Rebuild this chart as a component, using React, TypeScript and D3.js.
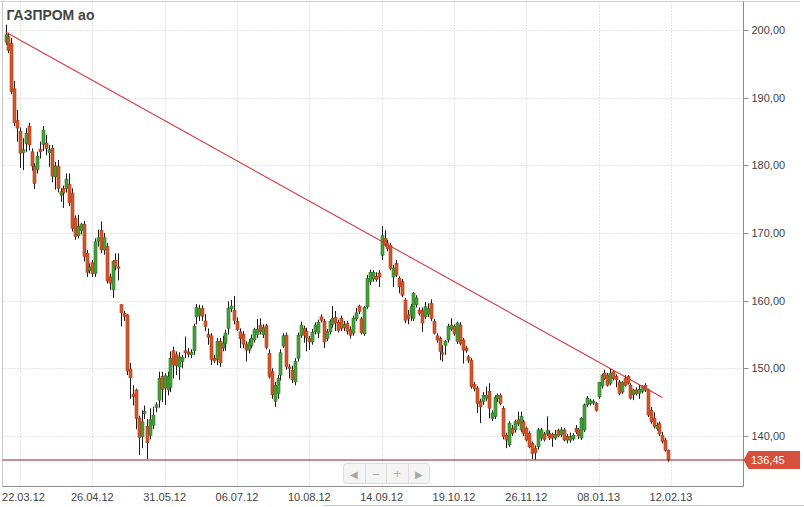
import React from "react";
import * as d3 from "d3";

const title = "ГАЗПРОМ ао";
const xTickIndex = [5, 30, 55, 80, 105, 130, 155, 180, 205, 230];
const xTickLabels = ["22.03.12", "26.04.12", "31.05.12", "06.07.12", "10.08.12", "14.09.12", "19.10.12", "26.11.12", "08.01.13", "12.02.13"];
const yTicks = [140, 150, 160, 170, 180, 190, 200];
const lastPrice = 136.45;
const trendStart = [0, 199.7];
const trendEnd = [227, 145.7];
const navButtons = ["◀", "–", "+", "▶"];

// [open, high, low, close]
const ohlc: [number, number, number, number][] = [
  [198.2, 200.8, 197.8, 199.3], [199.0, 199.6, 196.6, 197.0], [198.0, 198.8, 190.5, 190.9], [191.3, 192.5, 185.8, 186.3],
  [186.6, 188.2, 183.5, 185.5], [185.0, 185.6, 179.6, 181.8], [181.9, 184.0, 179.3, 182.3], [183.2, 185.5, 182.0, 184.7],
  [185.8, 186.3, 182.2, 183.0], [182.0, 182.5, 179.2, 179.9], [179.8, 180.3, 176.5, 177.3], [179.4, 182.0, 178.8, 181.3],
  [182.4, 183.5, 181.0, 182.0], [183.1, 185.8, 182.1, 185.2], [183.3, 184.5, 181.5, 182.5], [181.9, 183.0, 179.8, 182.3],
  [182.5, 183.0, 177.5, 178.4], [178.3, 180.5, 176.4, 179.9], [179.8, 180.8, 176.0, 176.6], [175.6, 176.6, 174.6, 176.1],
  [176.6, 177.0, 173.7, 175.9], [176.6, 178.8, 176.0, 177.9], [177.2, 178.8, 174.0, 174.5], [175.9, 176.6, 170.2, 170.7],
  [172.2, 172.6, 169.0, 169.5], [169.6, 172.7, 169.2, 171.0], [170.4, 171.5, 169.8, 171.3], [171.3, 171.8, 165.8, 166.5],
  [167.0, 167.5, 163.5, 164.2], [164.5, 165.5, 164.0, 165.0], [165.6, 166.0, 163.5, 164.0], [164.0, 169.2, 163.5, 168.7],
  [168.8, 170.5, 168.0, 169.3], [170.4, 171.7, 167.0, 167.5], [167.5, 170.0, 166.8, 169.3], [168.0, 168.5, 162.5, 162.9],
  [163.5, 164.0, 161.6, 162.6], [161.6, 166.0, 160.4, 165.8], [166.0, 167.0, 164.5, 165.1], [165.0, 167.0, 163.0, 164.8],
  [159.4, 159.5, 156.2, 158.2], [158.1, 158.5, 157.0, 157.7], [157.9, 158.0, 149.0, 149.6], [149.9, 150.8, 145.5, 148.6],
  [146.2, 147.5, 144.5, 145.8], [146.8, 147.0, 141.0, 142.6], [142.6, 143.0, 137.2, 139.8],
  [139.9, 143.8, 138.2, 142.1], [143.3, 144.5, 142.5, 143.6], [141.4, 142.5, 136.6, 139.0], [140.1, 144.1, 139.5, 142.4],
  [141.6, 144.3, 141.0, 143.1], [144.2, 145.0, 143.5, 144.6], [145.3, 149.5, 144.2, 148.5], [148.8, 149.5, 145.0, 146.9],
  [147.1, 149.3, 144.6, 148.9], [146.8, 149.5, 146.0, 148.8], [147.2, 152.5, 146.5, 151.5], [152.6, 153.2, 148.5, 150.5],
  [152.0, 152.5, 149.0, 150.4], [150.2, 152.4, 148.3, 151.7], [151.0, 152.0, 150.0, 151.6], [152.6, 154.7, 151.5, 152.3],
  [152.4, 153.0, 151.6, 152.1], [152.0, 152.8, 151.5, 152.4], [152.6, 156.6, 152.0, 156.2], [157.6, 159.5, 156.5, 159.0],
  [157.8, 159.4, 157.0, 158.8], [158.9, 159.3, 157.0, 157.7], [157.0, 158.0, 155.5, 156.2], [155.0, 155.9, 153.5, 154.6],
  [154.8, 155.2, 150.5, 151.3], [151.5, 152.0, 150.8, 151.1], [151.3, 154.5, 150.5, 154.0], [154.0, 154.5, 150.2, 150.8],
  [153.0, 154.8, 152.5, 153.7], [153.7, 155.7, 152.6, 155.2], [155.9, 159.9, 155.0, 158.9], [158.8, 160.1, 158.3, 159.2],
  [158.6, 160.7, 156.5, 157.1], [156.9, 157.5, 155.5, 155.7], [155.4, 155.9, 153.0, 154.4], [155.0, 155.5, 153.0, 153.6],
  [153.5, 154.0, 151.0, 152.7], [152.7, 154.3, 152.2, 153.8], [153.4, 155.0, 153.0, 154.4], [154.2, 156.0, 153.8, 155.7],
  [155.0, 157.3, 154.5, 155.8], [156.4, 157.4, 155.0, 155.4], [155.0, 156.5, 154.5, 156.0], [156.3, 156.6, 152.8, 153.1],
  [152.2, 152.8, 148.5, 148.8], [149.5, 150.0, 145.5, 146.1], [145.1, 148.0, 144.3, 147.5], [146.3, 149.0, 145.5, 148.5],
  [149.0, 152.8, 148.2, 152.3], [153.3, 155.2, 153.0, 154.8], [154.9, 155.3, 149.8, 150.3], [150.2, 150.6, 148.5, 150.0],
  [149.7, 150.4, 147.8, 148.3], [148.0, 151.5, 147.5, 151.0], [151.5, 155.3, 151.0, 154.9], [154.9, 156.9, 154.5, 156.4],
  [155.9, 156.3, 153.8, 154.9], [155.5, 156.0, 152.5, 154.5], [154.4, 154.8, 152.7, 153.9], [153.9, 155.8, 153.5, 155.3],
  [155.4, 156.8, 155.0, 156.4], [155.2, 157.2, 154.5, 156.8], [157.6, 158.0, 156.8, 157.1], [156.9, 157.3, 153.0, 153.9],
  [154.4, 155.8, 154.0, 155.4], [155.4, 157.2, 155.0, 156.9], [156.5, 159.2, 156.0, 157.4], [157.5, 158.5, 155.5, 156.7],
  [156.8, 157.2, 155.3, 155.6], [157.4, 157.8, 155.5, 155.9], [156.0, 157.0, 155.5, 156.5], [156.6, 157.0, 155.0, 155.5],
  [155.7, 156.2, 154.4, 154.9], [155.2, 157.8, 154.8, 157.4], [157.3, 158.9, 157.0, 158.2], [159.2, 159.4, 158.0, 158.4],
  [157.3, 157.6, 155.0, 155.3], [155.1, 159.2, 154.8, 159.0], [159.1, 163.8, 158.8, 163.3], [162.8, 164.6, 162.3, 164.2],
  [163.2, 164.5, 162.8, 164.2], [163.6, 164.2, 162.8, 163.1], [164.1, 164.5, 162.0, 163.5], [166.7, 171.0, 166.0, 169.6],
  [169.2, 170.4, 168.0, 168.2], [168.5, 169.0, 167.3, 167.7], [168.2, 168.5, 164.5, 164.8], [163.5, 165.3, 162.0, 164.8],
  [165.5, 166.0, 163.5, 163.8], [163.3, 163.6, 161.1, 162.1],
  [162.8, 163.2, 160.5, 160.8], [160.1, 160.4, 156.7, 157.1], [157.9, 158.6, 156.5, 157.4], [157.9, 159.5, 157.0, 159.1],
  [157.4, 161.3, 157.0, 161.1], [159.4, 160.8, 159.0, 160.4], [158.6, 159.0, 157.8, 158.1], [158.6, 159.0, 155.4, 156.7],
  [157.6, 159.8, 157.3, 159.1], [158.0, 159.6, 157.6, 158.8], [159.6, 160.2, 157.0, 157.4], [156.9, 157.3, 155.0, 155.2],
  [154.8, 155.2, 153.8, 154.2], [154.4, 154.7, 151.2, 152.5], [152.3, 153.4, 151.0, 152.1], [153.4, 154.2, 152.0, 154.0],
  [154.2, 156.6, 153.8, 156.2], [155.8, 157.4, 155.5, 156.4], [156.2, 156.5, 154.8, 155.1], [154.0, 156.9, 153.6, 156.7],
  [156.4, 156.8, 153.4, 153.7], [154.2, 154.5, 150.7, 152.7], [153.0, 153.3, 152.3, 152.6], [151.7, 152.0, 150.8, 151.2],
  [151.2, 151.5, 147.0, 147.3], [147.6, 148.0, 146.6, 147.0], [147.0, 147.4, 143.4, 144.8], [145.1, 145.5, 141.9, 144.3],
  [145.1, 146.5, 144.6, 146.0], [145.6, 147.3, 145.2, 146.0], [146.6, 147.8, 142.6, 144.1], [142.6, 143.8, 142.2, 143.4],
  [142.9, 146.0, 142.5, 145.7], [145.5, 146.3, 145.0, 146.0], [146.0, 146.3, 144.5, 144.8], [144.1, 144.4, 139.5, 139.9],
  [140.1, 140.5, 138.2, 139.4], [138.7, 142.2, 138.4, 141.9], [141.1, 141.6, 140.0, 140.4], [140.9, 142.4, 140.5, 142.1],
  [142.4, 143.6, 141.5, 141.8], [140.9, 143.6, 140.6, 142.9], [142.1, 142.4, 140.0, 140.4], [141.1, 141.4, 139.2, 139.4],
  [140.4, 140.7, 138.2, 138.4], [138.9, 139.2, 136.6, 137.4],
  [138.2, 138.6, 136.5, 137.5], [138.4, 141.2, 138.0, 140.9], [139.7, 141.2, 139.3, 140.9], [140.3, 140.6, 139.2, 139.5],
  [140.3, 142.9, 140.0, 140.8], [140.4, 140.8, 139.4, 139.7], [140.2, 140.5, 138.4, 139.7], [139.7, 140.9, 139.4, 140.2],
  [140.8, 141.1, 139.8, 140.0], [140.2, 141.3, 139.8, 140.9], [140.9, 141.2, 139.2, 139.4], [139.9, 140.3, 138.9, 139.4],
  [139.4, 140.5, 139.0, 139.9], [139.6, 140.4, 139.3, 140.1], [141.1, 141.6, 140.3, 140.6], [140.9, 141.2, 139.6, 140.0],
  [139.7, 142.8, 139.4, 142.6], [140.9, 144.8, 140.6, 144.6], [144.6, 145.9, 144.3, 145.6], [144.8, 145.5, 144.5, 145.2],
  [144.9, 145.4, 144.6, 145.1], [144.8, 145.0, 143.6, 143.8], [145.8, 148.0, 145.5, 147.9], [147.4, 149.2, 147.0, 149.0],
  [149.3, 149.8, 148.3, 148.5], [149.0, 149.3, 147.3, 147.5], [147.8, 149.9, 147.5, 149.3], [149.5, 149.7, 148.2, 148.5],
  [148.8, 149.1, 147.2, 148.3], [148.0, 148.3, 146.0, 146.3], [146.5, 148.1, 146.2, 147.9], [148.5, 149.0, 147.3, 147.5],
  [148.8, 149.0, 147.6, 147.8], [147.5, 147.8, 145.4, 145.6], [146.1, 147.0, 145.3, 146.8], [146.8, 147.2, 146.0, 146.3],
  [146.3, 147.5, 145.5, 146.9], [146.6, 147.5, 146.3, 147.3], [147.5, 147.8, 146.5, 146.8], [146.8, 147.0, 142.8, 143.1],
  [143.8, 144.3, 141.8, 142.1], [142.6, 143.5, 141.1, 141.4], [141.1, 142.0, 140.8, 141.6], [141.8, 142.1, 140.0, 140.3],
  [140.1, 140.6, 138.9, 139.2], [139.4, 139.7, 137.7, 137.9], [137.9, 138.0, 136.2, 136.45],
];

const FONT = "'Liberation Sans', Arial, sans-serif";

export default function App() {
  const W = 804, H = 507;
  const left = 2.5, right = 743.5, top = 1.5, bottom = 486.5;
  const x = d3.scaleLinear().domain([5, 230]).range([20, 671]);
  const y = d3.scaleLinear().domain([140, 200]).range([436, 30]);
  const fmt = (v: number) => d3.format(".2f")(v).replace(".", ",");
  const yLast = y(lastPrice);

  const navLeft = 343, navTop = 463, navW = 86, navH = 20;
  const segW = navW / navButtons.length;

  return (
    <svg width={W} height={H} style={{ position: "absolute", left: 0, top: 0, background: "#fff" }} fontFamily={FONT}>
      <rect x={0} y={0} width={W} height={H} fill="#fff" />
      {/* outer frame */}
      <line x1={0} x2={800} y1={top} y2={top} stroke="#d0d0d0" />
      <line x1={323} x2={W} y1={505.5} y2={505.5} stroke="#c8c8c8" />
      {/* grid */}
      {yTicks.map((t) => (
        <line key={"gy" + t} x1={left} x2={right} y1={Math.round(y(t)) + 0.5} y2={Math.round(y(t)) + 0.5}
          stroke="#c8c8c8" strokeDasharray="1,2" />
      ))}
      {xTickIndex.map((t) => (
        <line key={"gx" + t} x1={Math.round(x(t)) + 0.5} x2={Math.round(x(t)) + 0.5} y1={top} y2={bottom}
          stroke="#c8c8c8" strokeDasharray="1,2" />
      ))}
      {/* plot borders */}
      <line x1={left} x2={left} y1={top} y2={bottom} stroke="#c8c8c8" />
      <line x1={left} x2={right} y1={bottom} y2={bottom} stroke="#8c8c8c" />
      <line x1={right} x2={right} y1={top} y2={bottom} stroke="#8c8c8c" />

      {/* candles */}
      {ohlc.map(([o, h, l, c], i) => {
        const cx = Math.round(x(i)) + 0.5;
        const up = c >= o;
        const yT = y(Math.max(o, c));
        const yB = y(Math.min(o, c));
        const bh = Math.max(1, yB - yT);
        return (
          <g key={i}>
            <line x1={cx} x2={cx} y1={y(h)} y2={y(l)} stroke="#1a1a1a" strokeWidth={1} />
            <rect x={cx - 1.5} y={yT} width={3} height={bh}
              fill={up ? "#45a23a" : "#d4562b"} stroke={up ? "#2f6f25" : "#a93c16"} strokeWidth={0.6} />
          </g>
        );
      })}

      {/* trend line */}
      <line x1={x(trendStart[0])} y1={y(trendStart[1])} x2={x(trendEnd[0])} y2={y(trendEnd[1])}
        stroke="#d8383f" strokeWidth={1.1} />
      {/* support line */}
      <line x1={left} x2={right} y1={yLast} y2={yLast} stroke="#9e1a1a" strokeWidth={1.2} />

      {/* title */}
      <text x={6.5} y={20} fontSize={14} fontWeight="bold" fill="#444">{title}</text>

      {/* y axis */}
      {yTicks.map((t) => (
        <g key={"yt" + t}>
          <line x1={right} x2={right + 5} y1={Math.round(y(t)) + 0.5} y2={Math.round(y(t)) + 0.5} stroke="#8c8c8c" />
          <text x={751.5} y={y(t) + 4} fontSize={11} fill="#444">{fmt(t)}</text>
        </g>
      ))}

      {/* x axis labels */}
      {xTickIndex.map((t, k) => {
        const px = x(t);
        const cx = Math.max(px, 23.5);
        return (
          <text key={"xt" + t} x={cx} y={500.5} fontSize={11} fill="#444" textAnchor="middle">{xTickLabels[k]}</text>
        );
      })}

      {/* last price label */}
      <path d={`M${right},${yLast} L${right + 5},${yLast - 9} L800,${yLast - 9} L800,${yLast + 9} L${right + 5},${yLast + 9} Z`}
        fill="#d6503c" />
      <text x={751} y={yLast + 4} fontSize={11} fill="#fff">{fmt(lastPrice)}</text>

      {/* navigator buttons */}
      <rect x={navLeft + 0.5} y={navTop + 0.5} width={navW} height={navH} rx={3} fill="#f4f4f4" stroke="#dcdcdc" />
      {navButtons.map((b, k) => (
        <g key={"nb" + k}>
          {k > 0 && (
            <line x1={Math.round(navLeft + segW * k) + 0.5} x2={Math.round(navLeft + segW * k) + 0.5}
              y1={navTop + 1} y2={navTop + navH} stroke="#dcdcdc" />
          )}
          <text x={navLeft + segW * k + segW / 2 + 0.5} y={navTop + 14.5} fontSize={k === 0 || k === 3 ? 10 : 12}
            fill="#a8a8a8" textAnchor="middle">{b}</text>
        </g>
      ))}
    </svg>
  );
}
